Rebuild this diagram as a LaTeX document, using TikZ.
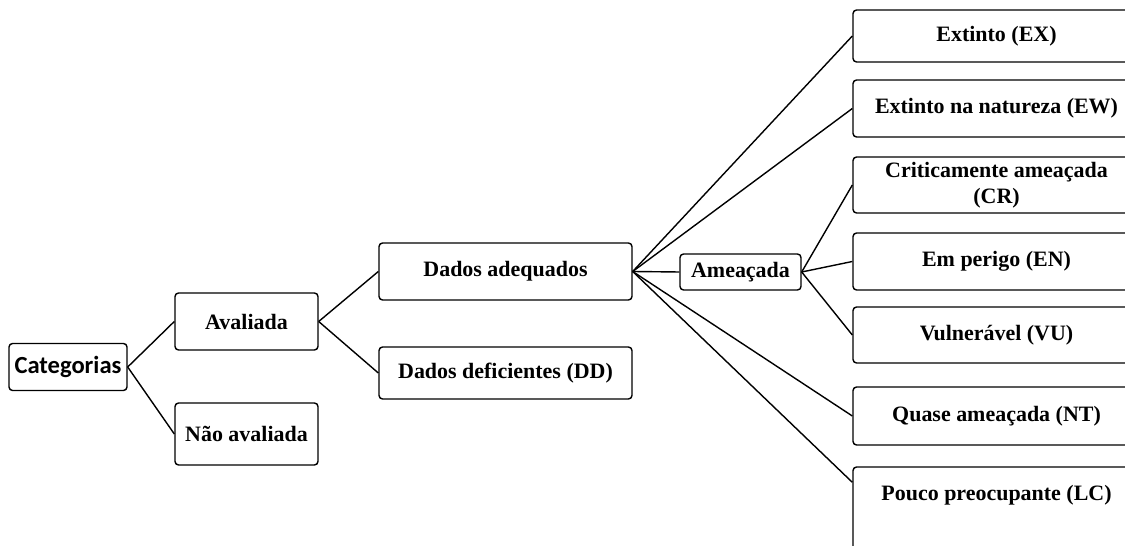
\documentclass[tikz,border=0pt]{standalone}
\usepackage{fontspec}
\setmainfont{Liberation Serif}
\newfontfamily\catfont{Carlito}
\begin{document}
\begin{tikzpicture}[x=0.02cm,y=-0.02cm,
	box/.style={draw,line width=0.8pt,rounded corners=2pt,inner sep=0pt,align=center,
		font=\fontsize{12.5}{15}\selectfont\bfseries},
	rbox/.style={box,minimum width=5.74cm},
	edge/.style={line width=0.8pt}]
	\useasboundingbox (0,0) rectangle (1125,546);
	\clip (0,0) rectangle (1125,546);
	% left part
	\node[box,minimum width=2.36cm,minimum height=0.94cm,font=\catfont\fontsize{14}{16}\selectfont\bfseries] (cat) at (68,367) {Categorias};
	\node[box,minimum width=2.86cm,minimum height=1.14cm] (aval) at (246.5,321.5) {Avaliada};
	\node[box,minimum width=2.86cm,minimum height=1.24cm] (naval) at (246.5,434) {Não avaliada};
	\node[box,minimum width=5.06cm,minimum height=1.14cm] (dadq) at (505.5,271.5) {Dados adequados};
	\node[box,minimum width=5.06cm,minimum height=1.04cm] (ddef) at (505.5,373) {Dados deficientes (DD)};
	\node[box,minimum width=2.42cm,minimum height=0.72cm] (amea) at (740.5,272) {Ameaçada};
	% right column
	\node[rbox,minimum height=1.04cm] (ex) at (996.5,36) {Extinto (EX)};
	\node[rbox,minimum height=1.14cm] (ew) at (996.5,108.5) {Extinto na natureza (EW)};
	\node[rbox,minimum height=1.12cm] (cr) at (996.5,185) {Criticamente ameaçada\\(CR)};
	\node[rbox,minimum height=1.14cm] (en) at (996.5,261.5) {Em perigo (EN)};
	\node[rbox,minimum height=1.12cm] (vu) at (996.5,335) {Vulnerável (VU)};
	\node[rbox,minimum height=1.16cm] (nt) at (996.5,416) {Quase ameaçada (NT)};
	\node[rbox,anchor=base,text height=0.68cm,text depth=1.2cm] (lc) at (996.5,501) {Pouco preocupante (LC)};
	% connectors
	\draw[edge] (cat.east) -- (aval.west);
	\draw[edge] (cat.east) -- (naval.west);
	\draw[edge] (aval.east) -- (dadq.west);
	\draw[edge] (aval.east) -- (ddef.west);
	\draw[edge] (dadq.east) -- (ex.west);
	\draw[edge] (dadq.east) -- (ew.west);
	\draw[edge] (dadq.east) -- (amea.west);
	\draw[edge] (dadq.east) -- (nt.west);
	\draw[edge] (dadq.east) -- ([yshift=-0.32cm]lc.north west);
	\draw[edge] (amea.east) -- (cr.west);
	\draw[edge] (amea.east) -- (en.west);
	\draw[edge] (amea.east) -- (vu.west);
\end{tikzpicture}
\end{document}
